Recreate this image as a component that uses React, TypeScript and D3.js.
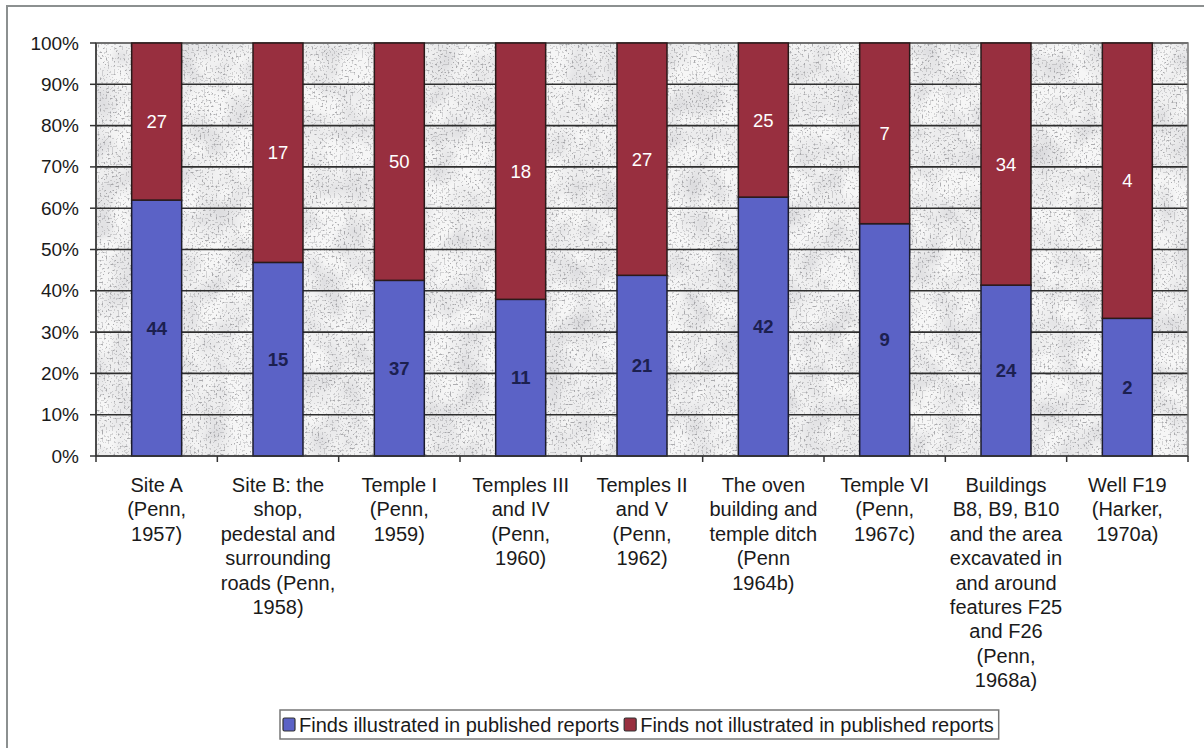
import React, { useEffect, useRef } from "react";
import * as d3 from "d3";

const categories: string[][] = [
  ["Site A", "(Penn,", "1957)"],
  ["Site B: the", "shop,", "pedestal and", "surrounding", "roads (Penn,", "1958)"],
  ["Temple I", "(Penn,", "1959)"],
  ["Temples III", "and IV", "(Penn,", "1960)"],
  ["Temples II", "and V", "(Penn,", "1962)"],
  ["The oven", "building and", "temple ditch", "(Penn", "1964b)"],
  ["Temple VI", "(Penn,", "1967c)"],
  ["Buildings", "B8, B9, B10", "and the area", "excavated in", "and around", "features F25", "and F26", "(Penn,", "1968a)"],
  ["Well F19", "(Harker,", "1970a)"],
];
const illustrated = [44, 15, 37, 11, 21, 42, 9, 24, 2];
const notIllustrated = [27, 17, 50, 18, 27, 25, 7, 34, 4];
const seriesNames = ["Finds illustrated in published reports", "Finds not illustrated in published reports"];
const yTicks = [0, 0.1, 0.2, 0.3, 0.4, 0.5, 0.6, 0.7, 0.8, 0.9, 1];

const W = 1204;
const H = 748;
const BLUE = "#5b62c6";
const RED = "#982f3f";
const FONT = "'Liberation Sans', Arial, sans-serif";

export default function App() {
  const ref = useRef<SVGSVGElement>(null);

  useEffect(() => {
    const svg = d3.select(ref.current);
    svg.selectAll("*").remove();

    const left = 96, right = 1188, top = 43, bottom = 456;
    const idx = categories.map((_, i) => String(i));
    const x = d3.scaleBand<string>().domain(idx).range([left, right]).paddingInner(0.588).paddingOuter(0.294);
    const y = d3.scaleLinear().domain([0, 1]).range([bottom, top]);

    // background noise filter
    const defs = svg.append("defs");
    const f = defs.append("filter").attr("id", "noise").attr("x", 0).attr("y", 0).attr("width", "100%").attr("height", "100%");
    f.append("feTurbulence").attr("type", "fractalNoise").attr("baseFrequency", 0.5).attr("numOctaves", 2).attr("seed", 4).attr("result", "t");
    f.append("feColorMatrix").attr("in", "t").attr("type", "matrix")
      .attr("values", "0 0 0 0 0.25  0 0 0 0 0.25  0 0 0 0 0.27  2.4 0 0 0 -1.05")
      .attr("result", "specks");
    f.append("feComponentTransfer").attr("in", "specks").attr("result", "sp2")
      .append("feFuncA").attr("type", "discrete").attr("tableValues", "0 0.4 0.75");
    f.append("feTurbulence").attr("type", "fractalNoise").attr("baseFrequency", 0.035).attr("numOctaves", 2).attr("seed", 9).attr("result", "blob");
    f.append("feColorMatrix").attr("in", "blob").attr("type", "matrix")
      .attr("values", "0 0 0 0 0.7  0 0 0 0 0.7  0 0 0 0 0.72  1.8 0 0 0 -0.6")
      .attr("result", "blobg");
    f.append("feFlood").attr("flood-color", "#f6f6f6").attr("result", "base");
    const m = f.append("feMerge");
    m.append("feMergeNode").attr("in", "base");
    m.append("feMergeNode").attr("in", "blobg");
    m.append("feMergeNode").attr("in", "sp2");

    // outer frame
    svg.append("rect").attr("x", 7).attr("y", 6).attr("width", W + 20).attr("height", H + 20)
      .attr("fill", "#fff").attr("stroke", "#8c9090").attr("stroke-width", 2);

    // plot background
    svg.append("rect").attr("x", left).attr("y", top).attr("width", right - left).attr("height", bottom - top)
      .attr("fill", "#e6e6e6").attr("filter", "url(#noise)");

    // gridlines
    svg.append("g").selectAll("line").data(yTicks.filter(t => t > 0)).join("line")
      .attr("x1", left).attr("x2", right).attr("y1", d => y(d)).attr("y2", d => y(d))
      .attr("stroke", "#2e2e2e").attr("stroke-width", 1.6);

    svg.append("rect").attr("x", left).attr("y", top).attr("width", right - left).attr("height", bottom - top)
      .attr("fill", "none").attr("stroke", "#777").attr("stroke-width", 1.5);

    // bars
    const data = illustrated.map((v, i) => {
      const tot = v + notIllustrated[i];
      return { i, a: v, b: notIllustrated[i], pa: v / tot };
    });
    const g = svg.append("g");
    g.selectAll("rect.a").data(data).join("rect").attr("class", "a")
      .attr("x", d => x(String(d.i))!).attr("width", x.bandwidth())
      .attr("y", d => y(d.pa)).attr("height", d => y(0) - y(d.pa))
      .attr("fill", BLUE).attr("stroke", "#1c1c2c").attr("stroke-width", 1.5);
    g.selectAll("rect.b").data(data).join("rect").attr("class", "b")
      .attr("x", d => x(String(d.i))!).attr("width", x.bandwidth())
      .attr("y", y(1)).attr("height", d => y(d.pa) - y(1))
      .attr("fill", RED).attr("stroke", "#2a1a1a").attr("stroke-width", 1.5);

    // value labels
    g.selectAll("text.a").data(data).join("text").attr("class", "a")
      .attr("x", d => x(String(d.i))! + x.bandwidth() / 2)
      .attr("y", d => (y(0) + y(d.pa)) / 2 + 6.5)
      .attr("text-anchor", "middle").attr("font-family", FONT).attr("font-size", 18.5).attr("font-weight", "bold")
      .attr("fill", "#1c2050").text(d => d.a);
    g.selectAll("text.b").data(data).join("text").attr("class", "b")
      .attr("x", d => x(String(d.i))! + x.bandwidth() / 2)
      .attr("y", d => (y(1) + y(d.pa)) / 2 + 6.5)
      .attr("text-anchor", "middle").attr("font-family", FONT).attr("font-size", 18.5)
      .attr("fill", "#ffffff").text(d => d.b);

    // y axis
    const ya = svg.append("g");
    ya.append("line").attr("x1", left).attr("x2", left).attr("y1", top).attr("y2", bottom).attr("stroke", "#333").attr("stroke-width", 1.5);
    ya.selectAll("line.t").data(yTicks).join("line").attr("class", "t")
      .attr("x1", left - 6).attr("x2", left).attr("y1", d => y(d)).attr("y2", d => y(d))
      .attr("stroke", "#333").attr("stroke-width", 1.5);
    ya.selectAll("text").data(yTicks).join("text")
      .attr("x", 79).attr("y", d => y(d) + 6.5).attr("text-anchor", "end")
      .attr("font-family", FONT).attr("font-size", 19).attr("fill", "#1a1a1a")
      .text(d => d3.format(".0%")(d));

    // x axis
    const xa = svg.append("g");
    xa.append("line").attr("x1", left).attr("x2", right).attr("y1", bottom).attr("y2", bottom).attr("stroke", "#333").attr("stroke-width", 1.5);
    const bounds = idx.map(k => x(k)! - (x.step() - x.bandwidth()) / 2).concat([right]);
    xa.selectAll("line.t").data(bounds).join("line").attr("class", "t")
      .attr("x1", d => d).attr("x2", d => d).attr("y1", bottom).attr("y2", bottom + 6)
      .attr("stroke", "#333").attr("stroke-width", 1.5);
    const lab = xa.selectAll("text").data(categories).join("text")
      .attr("text-anchor", "middle").attr("font-family", FONT).attr("font-size", 20).attr("fill", "#1a1a1a");
    lab.each(function (lines, i) {
      const t = d3.select(this);
      const cx = x(String(i))! + x.bandwidth() / 2;
      lines.forEach((ln, j) => {
        t.append("tspan").attr("x", cx).attr("y", 492 + j * 24.4).text(ln);
      });
    });

    // legend
    const lg = svg.append("g");
    const box = lg.append("rect").attr("x", 280).attr("y", 710).attr("width", 730).attr("height", 29)
      .attr("fill", "#fff").attr("stroke", "#777").attr("stroke-width", 1.5);
    let cx = 283;
    [BLUE, RED].forEach((c, i) => {
      lg.append("rect").attr("x", cx).attr("y", 718).attr("width", 12).attr("height", 13).attr("rx", 1.5)
        .attr("fill", c).attr("stroke", "#333").attr("stroke-width", 1.2);
      const tx = lg.append("text").attr("x", cx + 16).attr("y", 732)
        .attr("font-family", FONT).attr("font-size", 20).attr("fill", "#1a1a1a").text(seriesNames[i]);
      const w = (tx.node() as SVGTextElement).getComputedTextLength();
      cx = cx + 16 + w + 5;
    });
    box.attr("width", cx - 280);
  }, []);

  return (
    <svg ref={ref} width={W} height={H} style={{ position: "absolute", left: 0, top: 0, background: "#fff" }} />
  );
}
